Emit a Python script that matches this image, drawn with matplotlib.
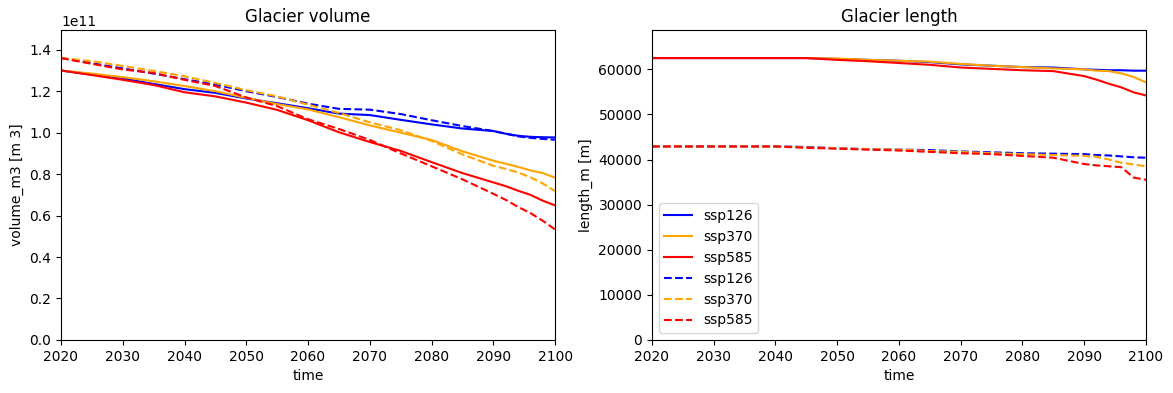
import matplotlib
matplotlib.use("Agg")
import matplotlib.pyplot as plt
import numpy as np

# years of the sampled values
years = [2020, 2025, 2030, 2035, 2040, 2045, 2050, 2055, 2060, 2065,
         2070, 2075, 2080, 2085, 2090, 2092, 2094, 2096, 2098, 2100]

scenarios = ["ssp126", "ssp370", "ssp585"]
colors = ["blue", "orange", "red"]

# volume in 1e11 m3, solid run
vol_a_126 = [1.300, 1.280, 1.262, 1.235, 1.210, 1.192, 1.165, 1.142, 1.118, 1.092,
             1.085, 1.062, 1.040, 1.020, 1.008, 0.995, 0.985, 0.980, 0.978, 0.977]
vol_a_370 = [1.300, 1.285, 1.268, 1.248, 1.225, 1.200, 1.168, 1.138, 1.112, 1.075,
             1.035, 1.000, 0.965, 0.910, 0.865, 0.850, 0.835, 0.818, 0.805, 0.783]
vol_a_585 = [1.300, 1.278, 1.255, 1.230, 1.195, 1.175, 1.145, 1.110, 1.060, 1.002,
             0.955, 0.912, 0.858, 0.805, 0.760, 0.742, 0.720, 0.700, 0.672, 0.649]
# volume, dashed run
vol_b_126 = [1.360, 1.335, 1.310, 1.285, 1.258, 1.232, 1.200, 1.172, 1.140, 1.115,
             1.111, 1.090, 1.060, 1.032, 1.008, 0.995, 0.982, 0.975, 0.970, 0.966]
vol_b_370 = [1.360, 1.345, 1.322, 1.298, 1.272, 1.240, 1.205, 1.175, 1.135, 1.095,
             1.050, 1.012, 0.960, 0.895, 0.840, 0.825, 0.808, 0.785, 0.755, 0.718]
vol_b_585 = [1.360, 1.332, 1.305, 1.288, 1.255, 1.225, 1.170, 1.128, 1.065, 1.018,
             0.965, 0.900, 0.838, 0.775, 0.705, 0.676, 0.642, 0.612, 0.575, 0.533]

# length in m, solid run
len_a_126 = [62500, 62500, 62500, 62500, 62500, 62500, 62300, 62100, 61900, 61600,
             61100, 60800, 60500, 60400, 60000, 59900, 59800, 59800, 59700, 59700]
len_a_370 = [62500, 62500, 62500, 62500, 62500, 62500, 62400, 62100, 61900, 61700,
             61200, 60800, 60500, 60200, 60000, 59700, 59600, 59100, 58300, 57100]
len_a_585 = [62500, 62500, 62500, 62500, 62500, 62500, 62100, 61800, 61400, 61000,
             60400, 60100, 59800, 59600, 58500, 57700, 56800, 56000, 54900, 54200]
# length, dashed run
len_b_126 = [42900, 42900, 42900, 42900, 42900, 42800, 42500, 42300, 42200, 42100,
             41800, 41600, 41400, 41300, 41200, 41000, 40900, 40700, 40500, 40400]
len_b_370 = [42900, 42900, 42900, 42900, 42900, 42700, 42500, 42300, 42200, 41900,
             41700, 41400, 41200, 41000, 40800, 40600, 40000, 39300, 38900, 38500]
len_b_585 = [42900, 42900, 42900, 42900, 42900, 42600, 42400, 42200, 42000, 41700,
             41400, 41200, 40800, 40400, 39000, 38700, 38500, 38300, 36000, 35500]

vol_a = [vol_a_126, vol_a_370, vol_a_585]
vol_b = [vol_b_126, vol_b_370, vol_b_585]
len_a = [len_a_126, len_a_370, len_a_585]
len_b = [len_b_126, len_b_370, len_b_585]

fig, (ax1, ax2) = plt.subplots(1, 2, figsize=(11.73, 3.93), dpi=100)
plt.subplots_adjust(left=0.052, right=0.977, bottom=0.135, top=0.924, wspace=0.196)

yr = np.array(years)
for s, c, va, vb in zip(scenarios, colors, vol_a, vol_b):
    ax1.plot(yr, np.array(va) * 1e11, color=c, label=s)
for s, c, va, vb in zip(scenarios, colors, vol_a, vol_b):
    ax1.plot(yr, np.array(vb) * 1e11, color=c, ls="--", label=s)
vmax = max(max(v) for v in vol_a + vol_b) * 1e11
ax1.set_ylim(0, vmax * 1.1)
ax1.set_xlim(2020, 2100)
ax1.set_title("Glacier volume")
ax1.set_ylabel("volume_m3 [m 3]")
ax1.set_xlabel("time")

for s, c, la in zip(scenarios, colors, len_a):
    ax2.plot(yr, la, color=c, label=s)
for s, c, lb in zip(scenarios, colors, len_b):
    ax2.plot(yr, lb, color=c, ls="--", label=s)
lmax = max(max(v) for v in len_a + len_b)
ax2.set_ylim(0, lmax * 1.1)
ax2.set_xlim(2020, 2100)
ax2.set_title("Glacier length")
ax2.set_ylabel("length_m [m]")
ax2.set_xlabel("time")
ax2.legend(loc="lower left")

plt.savefig("out.png")
